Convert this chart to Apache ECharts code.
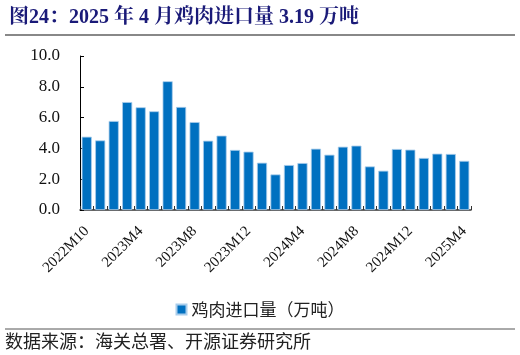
<!DOCTYPE html>
<html><head><meta charset="utf-8">
<script src="https://cdn.jsdelivr.net/npm/echarts@6/dist/echarts.min.js"></script>
<style>html,body{margin:0;padding:0;background:#fff}#c{width:520px;height:355px}</style>
</head><body><div id="c"></div>
<script>
const categories = ["2022M10","2022M11","2022M12","2023M2","2023M4","2023M5","2023M6","2023M7","2023M8","2023M9","2023M10","2023M11","2023M12",
"2024M1","2024M2","2024M3","2024M4","2024M5","2024M6","2024M7","2024M8","2024M9","2024M10","2024M11","2024M12",
"2025M1","2025M2","2025M3","2025M4"];
const imports = [4.76,4.52,5.78,7.01,6.67,6.41,8.36,6.69,5.71,4.50,4.83,3.90,3.79,
3.07,2.31,2.92,3.05,3.98,3.59,4.11,4.18,2.83,2.55,3.96,3.92,3.38,3.66,3.64,3.19];
const yTicks = {min:0, max:10, interval:2};
const seriesName = "鸡肉进口量（万吨）";
const titleText = "图24：2025 年 4 月鸡肉进口量 3.19 万吨";
const sourceText = "数据来源：海关总署、开源证券研究所";

const serif = "'Liberation Serif','Times New Roman',serif";
const cjk = "'Noto Sans CJK SC',sans-serif";
const chart = echarts.init(document.getElementById('c'));
chart.setOption({
  animation:false,
  backgroundColor:'#fff',
  title:{text:titleText,left:4,top:3,textStyle:{fontFamily:"'Liberation Serif','Noto Serif CJK SC','Noto Sans CJK SC',serif",fontSize:20,fontWeight:'bold',color:'#1a1a78'}},
  graphic:[
    {type:'line',shape:{x1:5,y1:35,x2:515,y2:35},style:{stroke:'#888',lineWidth:2}},
    {type:'line',shape:{x1:5,y1:329,x2:515,y2:329},style:{stroke:'#555',lineWidth:1}},
    {type:'text',left:5,top:332,style:{text:sourceText,font:"18px "+cjk,fill:'#222'}}
  ],
  legend:{data:[seriesName],top:296,left:'center',icon:'rect',itemWidth:10,itemHeight:10,itemGap:5,
    textStyle:{fontFamily:cjk,fontSize:17,color:'#222'}},
  grid:{left:80,right:49,top:56,bottom:145},
  xAxis:{type:'category',data:categories,
    axisLine:{lineStyle:{color:'#333',width:1.5}},
    axisTick:{show:true,inside:true,length:4,interval:0,lineStyle:{color:'#333'}},
    axisLabel:{interval:3,rotate:45,fontFamily:serif,fontSize:15,color:'#111',margin:19}},
  yAxis:{type:'value',min:yTicks.min,max:yTicks.max,interval:yTicks.interval,
    splitLine:{show:false},
    axisLine:{show:true,lineStyle:{color:'#000',width:1}},
    axisTick:{show:true,inside:true,length:4,lineStyle:{color:'#000'}},
    axisLabel:{formatter:v=>v.toFixed(1),fontFamily:serif,fontSize:17,color:'#111',margin:20}},
  series:[{name:seriesName,type:'bar',data:imports,barCategoryGap:'25%',
    itemStyle:{color:'#0070C0',borderColor:'#a9cdeb',borderWidth:0.8}}]
});
</script></body></html>
